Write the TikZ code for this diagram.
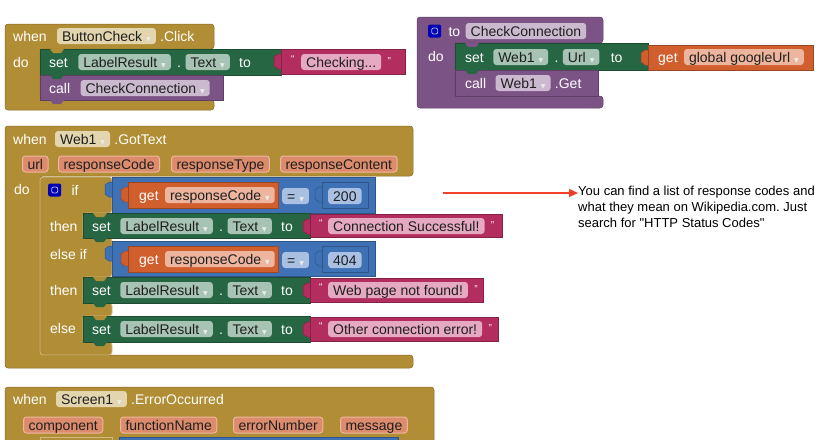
\documentclass[tikz,border=0pt]{standalone}
\usepackage{fontspec}
\setmainfont{Liberation Sans}
\newfontfamily\symfont{DejaVu Sans}
\usepackage{tikz}
\usetikzlibrary{arrows.meta,positioning}
\definecolor{evgold}{HTML}{B18E35}
\definecolor{ifline}{HTML}{D2BB80}
\definecolor{goldchip}{HTML}{E3D5AE}
\definecolor{parchip}{HTML}{DC8C6D}
\definecolor{parline}{HTML}{EDB79F}
\definecolor{setgreen}{HTML}{266643}
\definecolor{greenchip}{HTML}{A6C3B3}
\definecolor{txtred}{HTML}{B32D5E}
\definecolor{txtchip}{HTML}{E6A9C2}
\definecolor{getorange}{HTML}{D05F2D}
\definecolor{orangechip}{HTML}{EDB59D}
\definecolor{mathblue}{HTML}{3F71B5}
\definecolor{bluechip}{HTML}{A9C0E2}
\definecolor{procpurple}{HTML}{7C5385}
\definecolor{purplechip}{HTML}{CBB9CF}
\definecolor{mutblue}{HTML}{0000B4}
\definecolor{notered}{HTML}{F0402A}
\newcommand{\dd}{\hspace{4pt}{\symfont\fontsize{6}{6}\selectfont\color{white!92!black}▼}}
\newcommand{\vtab}[3]{\filldraw[blk=#3] (#1,#2) ++(0,5) -- ++(-3,0) -- ++(-4,3) -- ++(0,9) -- ++(4,3) -- ++(3,0);}
\newcommand{\notch}[3]{\fill[#3] (#1,#2) ++(10,0) -- ++(3,4) -- ++(8,0) -- ++(3,-4) -- cycle;}
\frenchspacing

\begin{document}
\begin{tikzpicture}[x=1pt, y=-1pt, every node/.style={font=\fontsize{14}{16}\selectfont, inner sep=0pt, anchor=west, text height=12pt, text depth=2pt}, lbl/.style={text=white}, chip/.style={fill=#1, rounded corners=3pt, inner xsep=5pt, minimum height=16pt, text=black!88}, param/.style={chip=parchip, draw=parline, line width=1pt}, quote/.style={text=white, font=\fontsize{10}{10}\selectfont, text height=7pt, text depth=2pt}, blk/.style={fill=#1, draw=#1!75!black, line width=0.5pt}, mut/.style={fill=mutblue, minimum size=13pt, text height=0pt, text depth=0pt, rounded corners=2pt, path picture={\draw[white!70!blue, line width=0.8pt] ([shift={(-3pt,-3pt)}]path picture bounding box.center) rectangle ([shift={(3pt,3pt)}]path picture bounding box.center);}}, note/.style={font=\fontsize{13}{16}\selectfont, align=left, anchor=north west, text=black, text height=, text depth=}, >={Triangle[length=9pt,width=8pt]}]
\useasboundingbox (0,0) rectangle (835,439);

\filldraw[blk=evgold, rounded corners=3pt] (5,24) -- (214,24) -- (214,49) -- (40,49) -- (40,100) -- (214,100) -- (214,110) -- (5,110) -- cycle;
\filldraw[blk=setgreen] (40,49) rectangle (281,75);
\vtab{281}{49}{txtred}
\filldraw[blk=txtred] (281,49) rectangle (405,74);
\filldraw[blk=procpurple] (40,75) rectangle (223,100);
\notch{40}{49}{evgold}\notch{40}{75}{setgreen}\notch{40}{100}{procpurple}
\node[lbl] (when1) at (13,36) {when};
\node[chip=goldchip, right=10pt of when1] (btn) {ButtonCheck\dd};
\node[lbl, right=4pt of btn] (click) {.Click};
\node[lbl] (do1) at (13,62) {do};
\node[lbl] (set1) at (49,62) {set};
\node[chip=greenchip, right=10pt of set1] (lr1) {LabelResult\dd};
\node[lbl, right=6pt of lr1] (dot1) {.};
\node[chip=greenchip, right=4pt of dot1] (txt1) {Text\dd};
\node[lbl, right=9pt of txt1] (to1) {to};
\node[quote] (lq1) at (291,60) {“};
\node[chip=txtchip] (chk) at (301,62) {Checking...};
\node[quote, right=6pt of chk] (rq1) {”};
\node[lbl] (call1) at (49,88) {call};
\node[chip=purplechip, right=10pt of call1] (cc1) {CheckConnection\dd};

\filldraw[blk=procpurple, rounded corners=3pt] (417,17) -- (603,17) -- (603,43) -- (455,43) -- (455,96) -- (603,96) -- (603,108) -- (417,108) -- cycle;
\filldraw[blk=setgreen] (455,43) rectangle (648,70);
\vtab{648}{45}{getorange}
\filldraw[blk=getorange] (648,45) rectangle (813,70);
\filldraw[blk=procpurple] (455,70) rectangle (598,96);
\notch{455}{43}{procpurple}\notch{455}{70}{setgreen}
\node[mut] (mut1) at (428,31) {};
\node[lbl, right=7pt of mut1] (to2) {to};
\node[chip=purplechip, right=5pt of to2] (cc2) {CheckConnection};
\node[lbl] (do2) at (428,56) {do};
\node[lbl] (set2) at (465,57) {set};
\node[chip=greenchip, right=9pt of set2] (web1a) {Web1\dd};
\node[lbl, right=6pt of web1a] (dot2) {.};
\node[chip=greenchip, right=4pt of dot2] (url) {Url\dd};
\node[lbl, right=11pt of url] (to3) {to};
\node[lbl] (get1) at (658,57) {get};
\node[chip=orangechip, right=6pt of get1] (gurl) {global googleUrl\dd};
\node[lbl] (call2) at (465,83) {call};
\node[chip=purplechip, right=9pt of call2] (web1b) {Web1\dd};
\node[lbl, right=4pt of web1b] (get2) {.Get};

\filldraw[blk=evgold, rounded corners=3pt] (5,126) -- (413,126) -- (413,176) -- (40,176) -- (40,355) -- (413,355) -- (413,368) -- (5,368) -- cycle;
\filldraw[fill=evgold, draw=ifline, line width=0.8pt, rounded corners=3pt] (40,177) -- (112,177) -- (112,213) -- (83,213) -- (83,238) -- (112,238) -- (112,277) -- (83,277) -- (83,303) -- (112,303) -- (112,316) -- (83,316) -- (83,342) -- (112,342) -- (112,355) -- (40,355) -- cycle;
\node[lbl] (when3) at (13,139) {when};
\node[chip=goldchip, right=8pt of when3] (web1c) {Web1\dd};
\node[lbl, right=4pt of web1c] (gottext) {.GotText};
\node[param] (purl) at (22,164) {url};
\node[param] (pcode) at (58,164) {responseCode};
\node[param] (ptype) at (171,164) {responseType};
\node[param] (pcont) at (280,164) {responseContent};
\node[lbl] (do3) at (14,189) {do};
\node[mut] (mut2) at (48,190) {};
\node[lbl, right=10pt of mut2] (if1) {if};
\node[lbl] (then1) at (50,226) {then};
\node[lbl] (elif) at (50,254) {else if};
\node[lbl] (then2) at (50,290) {then};
\node[lbl] (else1) at (50,328) {else};

\vtab{112}{177}{mathblue}
\filldraw[blk=mathblue] (112,177) rectangle (375,213);
\vtab{128}{182}{getorange}
\filldraw[blk=getorange] (128,182) rectangle (278,208);
\vtab{322}{182}{mathblue}
\filldraw[blk=mathblue] (322,182) rectangle (368,208);
\node[lbl] (get3) at (139,195) {get};
\node[chip=orangechip, right=6pt of get3] (rc1) {responseCode\dd};
\node[chip=bluechip] (eq1) at (282,196) {=\dd};
\node[chip=bluechip] (n200) at (328,196) {200};

\filldraw[blk=setgreen] (83,213) rectangle (310,238);
\vtab{310}{214}{txtred}
\filldraw[blk=txtred] (310,214) rectangle (502,237);
\notch{83}{213}{evgold}\notch{83}{238}{setgreen}
\node[lbl] (set3) at (92,226) {set};
\node[chip=greenchip, right=9pt of set3] (lr2) {LabelResult\dd};
\node[lbl, right=6pt of lr2] (dot3) {.};
\node[chip=greenchip, right=4pt of dot3] (txt2) {Text\dd};
\node[lbl, right=9pt of txt2] (to4) {to};
\node[quote] (lq2) at (319,224) {“};
\node[chip=txtchip] (succ) at (328,226) {Connection Successful!};
\node[quote, right=6pt of succ] (rq2) {”};

\vtab{112}{241}{mathblue}
\filldraw[blk=mathblue] (112,241) rectangle (375,276);
\vtab{128}{246}{getorange}
\filldraw[blk=getorange] (128,246) rectangle (278,272);
\vtab{322}{246}{mathblue}
\filldraw[blk=mathblue] (322,246) rectangle (368,272);
\node[lbl] (get4) at (139,259) {get};
\node[chip=orangechip, right=6pt of get4] (rc2) {responseCode\dd};
\node[chip=bluechip] (eq2) at (282,260) {=\dd};
\node[chip=bluechip] (n404) at (328,260) {404};

\filldraw[blk=setgreen] (83,277) rectangle (310,303);
\vtab{310}{278}{txtred}
\filldraw[blk=txtred] (310,278) rectangle (483,302);
\notch{83}{277}{evgold}\notch{83}{303}{setgreen}
\node[lbl] (set4) at (92,290) {set};
\node[chip=greenchip, right=9pt of set4] (lr3) {LabelResult\dd};
\node[lbl, right=6pt of lr3] (dot4) {.};
\node[chip=greenchip, right=4pt of dot4] (txt3) {Text\dd};
\node[lbl, right=9pt of txt3] (to5) {to};
\node[quote] (lq3) at (319,288) {“};
\node[chip=txtchip] (nf) at (328,290) {Web page not found!};
\node[quote, right=6pt of nf] (rq3) {”};

\filldraw[blk=setgreen] (83,316) rectangle (310,342);
\vtab{310}{317}{txtred}
\filldraw[blk=txtred] (310,317) rectangle (498,341);
\notch{83}{316}{evgold}\notch{83}{342}{setgreen}
\node[lbl] (set5) at (92,329) {set};
\node[chip=greenchip, right=9pt of set5] (lr4) {LabelResult\dd};
\node[lbl, right=6pt of lr4] (dot5) {.};
\node[chip=greenchip, right=4pt of dot5] (txt4) {Text\dd};
\node[lbl, right=9pt of txt4] (to6) {to};
\node[quote] (lq4) at (319,327) {“};
\node[chip=txtchip] (oce) at (328,329) {Other connection error!};
\node[quote, right=6pt of oce] (rq4) {”};

\filldraw[blk=evgold, rounded corners=3pt] (5,387) -- (434,387) -- (434,445) -- (5,445) -- cycle;
\filldraw[fill=evgold, draw=ifline, line width=0.8pt] (40,437) rectangle (112,445);
\filldraw[blk=mathblue] (119,437) rectangle (398,445);
\node[lbl] (when4) at (13,399) {when};
\node[chip=goldchip, right=9pt of when4] (scr) {Screen1\dd};
\node[lbl, right=4pt of scr] (errocc) {.ErrorOccurred};
\node[param] (pcomp) at (23,425) {component};
\node[param] (pfunc) at (120,425) {functionName};
\node[param] (perr) at (233,425) {errorNumber};
\node[param] (pmsg) at (340,425) {message};

\node[note] (info) at (578,186) {You can find a list of response codes and\\what they mean on Wikipedia.com. Just\\search for \textquotedbl HTTP Status Codes\textquotedbl};
\coordinate (tail) at (443,193);
\draw[->, draw=notered, fill=notered, line width=1.2pt] (tail) -- (tail -| info.west);
\end{tikzpicture}
\end{document}
